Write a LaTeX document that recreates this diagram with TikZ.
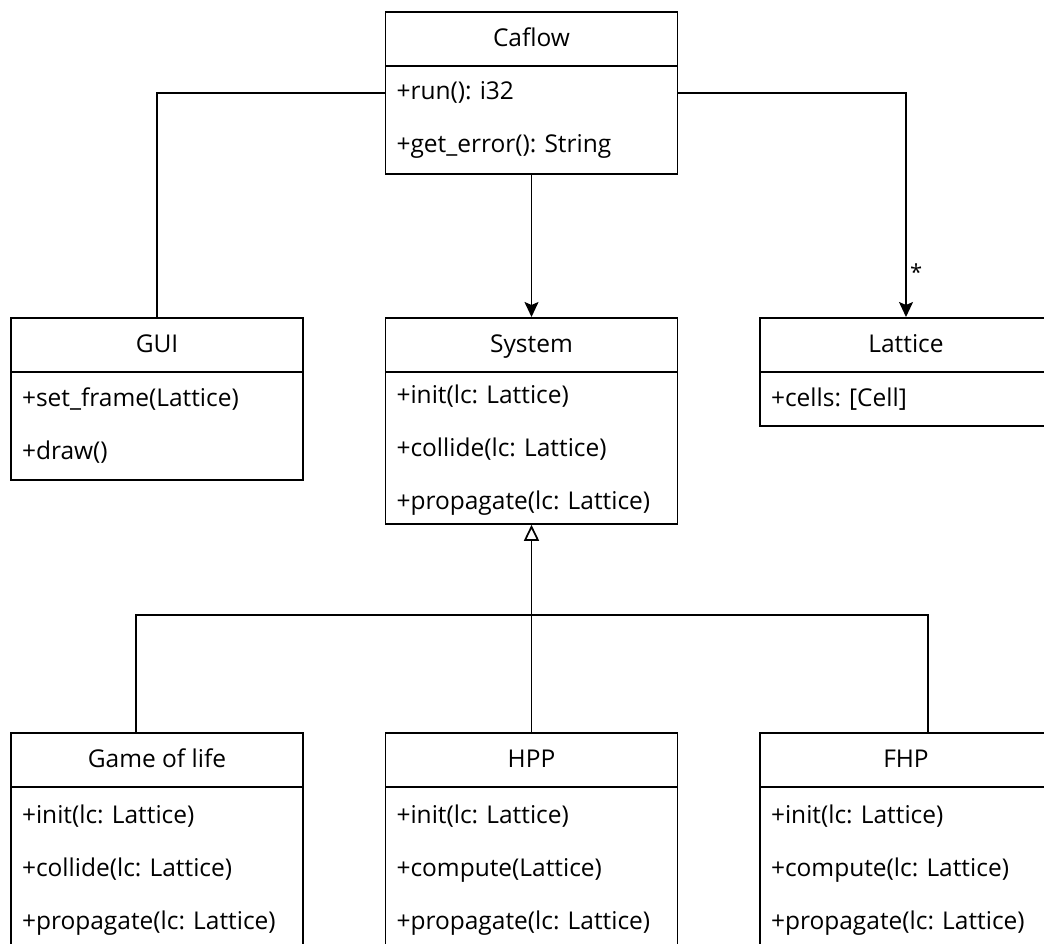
\documentclass[tikz,border=0pt]{standalone}
\usepackage{fontspec}
\setmainfont{Open Sans}
\frenchspacing
\usetikzlibrary{positioning, arrows.meta, calc}
\tikzset{
    clshead/.style={draw, line width=1.8pt, minimum width=292pt, minimum height=54pt, anchor=north, inner sep=0pt, text height=20pt, text depth=5pt, font=\fontsize{24.5}{28}\selectfont},
    clsbody/.style={draw, line width=1.8pt, minimum width=292pt, text width=270pt, inner xsep=11pt, inner ysep=0pt, align=left, font=\fontsize{24.5}{53}\selectfont},
    cd/.style={line width=1.7pt, >={Stealth[length=15pt, width=14pt, inset=3pt]}}
}

\begin{document}
\begin{tikzpicture}[cd, x=1pt, y=-1pt]
        \useasboundingbox (0,0) rectangle (1044,944);
        \clip (0,0) rectangle (1044,944);
        \node[clshead] (caflow) at (531.5,11) {Caflow};
        \node[clsbody, minimum height=108pt, below=-1.8pt of caflow] (caflow-b) {+run(): i32\\+get\_error(): String};
        \node[clshead] (gui) at (157,317) {GUI};
        \node[clsbody, minimum height=108pt, below=-1.8pt of gui] (gui-b) {+set\_frame(Lattice)\\+draw()};
        \node[clshead] (system) at (531.5,317) {System};
        \node[clsbody, minimum height=152pt, below=-1.8pt of system] (system-b) {\rule{0pt}{24pt}+init(lc: Lattice)\\+collide(lc: Lattice)\\+propagate(lc: Lattice)};
        \node[clshead] (lattice) at (906,317) {Lattice};
        \node[clsbody, minimum height=54pt, below=-1.8pt of lattice] (lattice-b) {+cells: [Cell]};
        \node[clshead] (gol) at (157,732) {Game of life};
        \node[clsbody, minimum height=166pt, below=-1.8pt of gol] (gol-b) {+init(lc: Lattice)\\+collide(lc: Lattice)\\+propagate(lc: Lattice)};
        \node[clshead] (hpp) at (531.5,732) {HPP};
        \node[clsbody, minimum height=166pt, below=-1.8pt of hpp] (hpp-b) {+init(lc: Lattice)\\+compute(Lattice)\\+propagate(lc: Lattice)};
        \node[clshead] (fhp) at (906,732) {FHP};
        \node[clsbody, minimum height=166pt, below=-1.8pt of fhp] (fhp-b) {+init(lc: Lattice)\\+compute(lc: Lattice)\\+propagate(lc: Lattice)};

        \coordinate (cf-mid) at ($(caflow.north)!0.5!(caflow-b.south)$);
        \coordinate (bus) at (531.5,615);
        \draw (gui.north) |- (cf-mid -| caflow-b.west);
        \draw[->] (cf-mid -| caflow-b.east) -| (lattice.north) node[pos=0.9, right, font=\fontsize{22}{26}\selectfont] {*};
        \draw[->] (caflow-b.south) -- (system.north);
        \draw[-{Triangle[open, length=16pt, width=15pt]}] (hpp.north) -- (system-b.south);
        \draw ([xshift=-21pt]gol.north) |- (bus) -| ([xshift=22pt]fhp.north);
    \end{tikzpicture}
\end{document}
